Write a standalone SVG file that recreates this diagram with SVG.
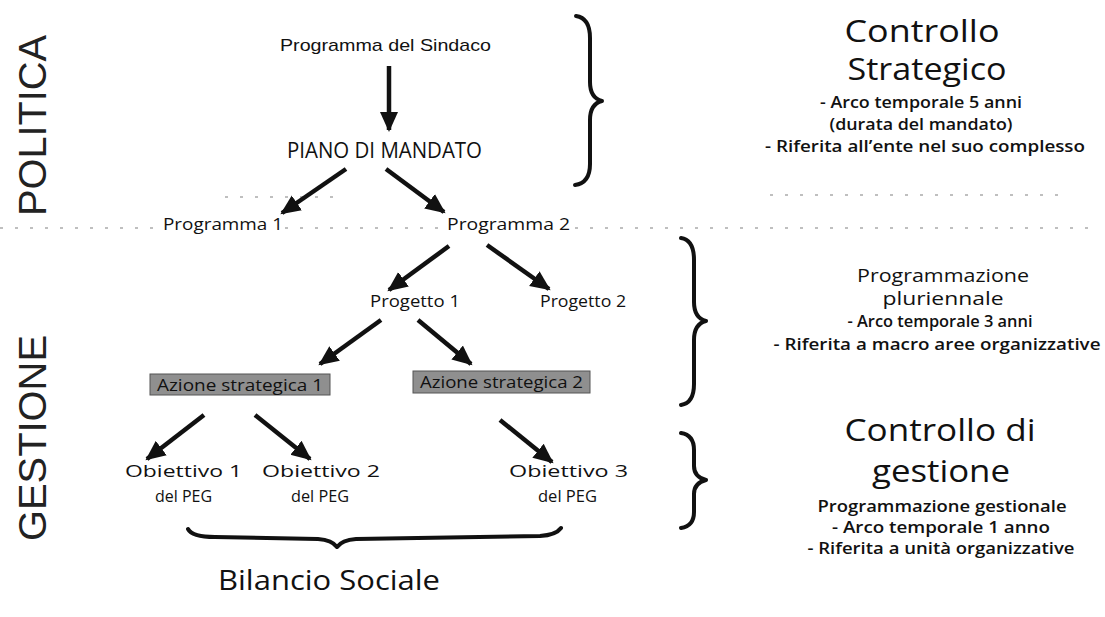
<svg xmlns="http://www.w3.org/2000/svg" width="1105" height="617" viewBox="0 0 1105 617">
<style>
.ar{font-family:"Liberation Sans",Arial,sans-serif;fill:#111}
.ca{font-family:"Open Sans","Noto Sans",sans-serif;fill:#111}
.big{font-size:31px}
.mid{font-size:18px}
.sm{font-size:15.5px;font-weight:600}
.side{font-family:"Liberation Sans",Arial,sans-serif;font-size:39px;fill:#222}
.conn{stroke:#111;stroke-width:4.5;fill:none;marker-end:url(#ah)}
.brace{stroke:#111;stroke-width:4;fill:none;stroke-linecap:round;stroke-linejoin:round}
.dash{stroke:#aaa;stroke-width:1.5;stroke-dasharray:3 12;fill:none}
.box{fill:#8f8f8f;stroke:#555;stroke-width:1}
</style>
<defs>
<marker id="ah" markerUnits="userSpaceOnUse" markerWidth="22" markerHeight="20" refX="18" refY="10" orient="auto">
<path d="M0,1 L20,10 L0,19 Z" fill="#111"/>
</marker>
</defs>
<rect width="1105" height="617" fill="#fff"/>

<g id="separators">
<path class="dash" d="M225,197 H335 M770,195 H1065"/>
<path class="dash" d="M0,228 H160 M285,228 H440 M575,228 H1100"/>
</g>

<g id="side-labels">
<text class="side" transform="translate(46,216) rotate(-90)" textLength="181" lengthAdjust="spacingAndGlyphs">POLITICA</text>
<text class="side" transform="translate(46,541) rotate(-90)" textLength="206" lengthAdjust="spacingAndGlyphs">GESTIONE</text>
</g>

<g id="n-sindaco"><text class="ar" x="280" y="51" font-size="17" textLength="211" lengthAdjust="spacingAndGlyphs">Programma del Sindaco</text></g>
<g id="n-piano"><text class="ca" x="287" y="158" font-size="21" textLength="195" lengthAdjust="spacingAndGlyphs">PIANO DI MANDATO</text></g>
<g id="n-prog1"><text class="ca" x="163" y="230" font-size="17" textLength="120" lengthAdjust="spacingAndGlyphs">Programma 1</text></g>
<g id="n-prog2"><text class="ca" x="447" y="230" font-size="17" textLength="123" lengthAdjust="spacingAndGlyphs">Programma 2</text></g>
<g id="n-progetto1"><text class="ca" x="370" y="307" font-size="17" textLength="90" lengthAdjust="spacingAndGlyphs">Progetto 1</text></g>
<g id="n-progetto2"><text class="ca" x="540" y="307" font-size="17" textLength="86" lengthAdjust="spacingAndGlyphs">Progetto 2</text></g>
<g id="n-azione1">
<rect class="box" x="150" y="374" width="180" height="21"/>
<text class="ca" x="157" y="390.5" font-size="16" textLength="166" lengthAdjust="spacingAndGlyphs">Azione strategica 1</text>
</g>
<g id="n-azione2">
<rect class="box" x="413" y="371" width="177" height="22"/>
<text class="ca" x="420" y="388" font-size="16" textLength="163" lengthAdjust="spacingAndGlyphs">Azione strategica 2</text>
</g>
<g id="n-ob1">
<text class="ca" x="125" y="477" font-size="17" textLength="117" lengthAdjust="spacingAndGlyphs">Obiettivo 1</text>
<text class="ca" x="155" y="502" font-size="17" textLength="57" lengthAdjust="spacingAndGlyphs">del PEG</text>
</g>
<g id="n-ob2">
<text class="ca" x="262" y="477" font-size="17" textLength="118" lengthAdjust="spacingAndGlyphs">Obiettivo 2</text>
<text class="ca" x="291" y="502" font-size="17" textLength="58" lengthAdjust="spacingAndGlyphs">del PEG</text>
</g>
<g id="n-ob3">
<text class="ca" x="509" y="477" font-size="17" textLength="119" lengthAdjust="spacingAndGlyphs">Obiettivo 3</text>
<text class="ca" x="538" y="502" font-size="17" textLength="59" lengthAdjust="spacingAndGlyphs">del PEG</text>
</g>
<g id="n-bilancio">
<path class="brace" d="M188,529 Q192,537 215,537 L318,539 Q332,540 337,547 Q342,540 356,539 L540,536 Q556,535 561,528"/>
<text class="ca" x="218" y="590" font-size="28" textLength="222" lengthAdjust="spacingAndGlyphs">Bilancio Sociale</text>
</g>

<g id="braces">
<path class="brace" d="M576,16 Q590,18 590,38 L590,82 Q590,98 602,101 Q590,104 590,120 L590,164 Q590,183 575,185"/>
<path class="brace" d="M681,238 Q694,240 694,260 L694,302 Q694,318 706,321 Q694,324 694,340 L694,384 Q694,403 681,405"/>
<path class="brace" d="M681,433 Q694,435 694,450 L694,466 Q694,477 706,480 Q694,483 694,494 L694,512 Q694,526 681,528"/>
</g>

<g id="right-text" text-anchor="middle">
<text class="ca big" x="922" y="42" textLength="155" lengthAdjust="spacingAndGlyphs">Controllo</text>
<text class="ca big" x="927" y="80" textLength="159" lengthAdjust="spacingAndGlyphs">Strategico</text>
<text class="ca sm" x="921" y="108" textLength="202" lengthAdjust="spacingAndGlyphs">- Arco temporale 5 anni</text>
<text class="ca sm" x="921" y="130" textLength="183" lengthAdjust="spacingAndGlyphs">(durata del mandato)</text>
<text class="ca sm" x="925" y="152" textLength="320" lengthAdjust="spacingAndGlyphs">- Riferita all’ente nel suo complesso</text>

<text class="ca mid" x="943" y="282" textLength="172" lengthAdjust="spacingAndGlyphs">Programmazione</text>
<text class="ca mid" x="943" y="305" textLength="121" lengthAdjust="spacingAndGlyphs">pluriennale</text>
<text class="ca sm" x="940" y="327" textLength="185" lengthAdjust="spacingAndGlyphs">- Arco temporale 3 anni</text>
<text class="ca sm" x="937" y="350" textLength="327" lengthAdjust="spacingAndGlyphs">- Riferita a macro aree organizzative</text>

<text class="ca big" x="940" y="441" textLength="191" lengthAdjust="spacingAndGlyphs">Controllo di</text>
<text class="ca big" x="941" y="482" textLength="138" lengthAdjust="spacingAndGlyphs">gestione</text>
<text class="ca sm" x="942" y="512" textLength="249" lengthAdjust="spacingAndGlyphs">Programmazione gestionale</text>
<text class="ca sm" x="941" y="533" textLength="218" lengthAdjust="spacingAndGlyphs">- Arco temporale 1 anno</text>
<text class="ca sm" x="941" y="554" textLength="267" lengthAdjust="spacingAndGlyphs">- Riferita a unità organizzative</text>
</g>

<g id="connectors">
<line class="conn" x1="389" y1="66" x2="389" y2="130"/>
<line class="conn" x1="346" y1="169" x2="282" y2="213"/>
<line class="conn" x1="386" y1="169" x2="444" y2="212"/>
<line class="conn" x1="449" y1="246" x2="389" y2="290"/>
<line class="conn" x1="487" y1="245" x2="549" y2="289"/>
<line class="conn" x1="381" y1="320" x2="320" y2="364"/>
<line class="conn" x1="418" y1="320" x2="471" y2="364"/>
<line class="conn" x1="204" y1="415" x2="147" y2="459"/>
<line class="conn" x1="255" y1="415" x2="310" y2="459"/>
<line class="conn" x1="500" y1="420" x2="552" y2="462"/>
</g>
</svg>
